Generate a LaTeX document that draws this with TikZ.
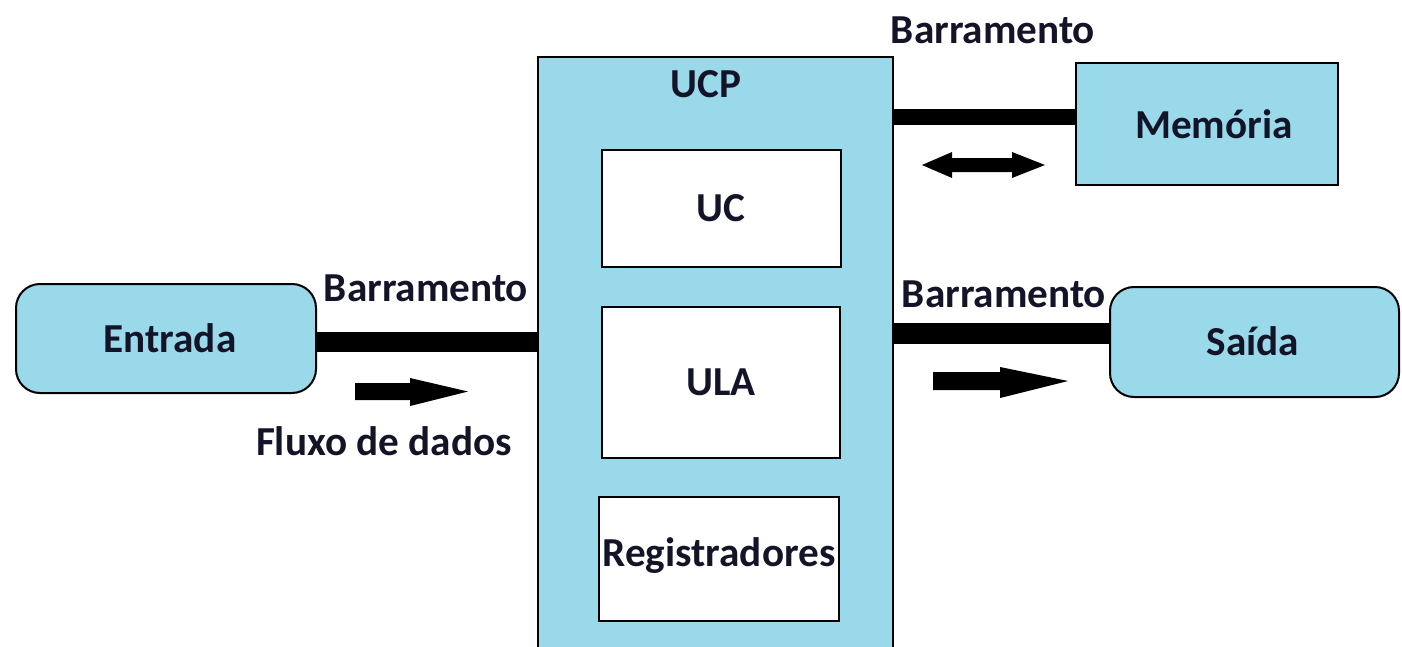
\documentclass[tikz,border=0pt]{standalone}
\usepackage{fontspec}
\setmainfont{Carlito}
\definecolor{boxblue}{RGB}{153,217,234}
\definecolor{txt}{RGB}{20,20,40}
\begin{document}
\begin{tikzpicture}[x=0.5pt,y=-0.5pt,
  lbl/.style={font=\fontsize{20.6}{24}\selectfont\bfseries, text=txt, inner sep=0pt},
  bluebox/.style={draw=black, line width=1pt, fill=boxblue},
  whitebox/.style={draw=black, line width=1pt, fill=white},
  bus/.style={fill=black},
  flow/.style={fill=black}]
\useasboundingbox (0,0) rectangle (1402,647);
% UCP
\fill[boxblue] (538,57) rectangle (893,660);
\draw[line width=1pt] (538,660) -- (538,57) -- (893,57) -- (893,660);
\node[lbl] (ucp) at (706,84) {UCP};
% inner boxes
\draw[whitebox] (602,150) rectangle (841,267);
\node[lbl] (uc) at (721,208) {UC};
\draw[whitebox] (602,307) rectangle (840,458);
\node[lbl] (ula) at (721,382) {ULA};
\draw[whitebox] (599,497) rectangle (839,621);
\node[lbl] (reg) at (719,556) {Registradores};
% Memoria
\draw[bluebox] (1076,63) rectangle (1338,185);
\node[lbl] (mem) at (1214,124) {Memória};
% Entrada
\draw[bluebox, rounded corners=12pt] (16,284) rectangle (316,393);
\node[lbl] (ent) at (170,338) {Entrada};
% Saida
\draw[bluebox, rounded corners=12pt] (1110,287) rectangle (1399,397);
\node[lbl] (sai) at (1253,341) {Saída};
% buses
\fill[bus] (317,332) rectangle (538,352);
\fill[bus] (894,109) rectangle (1076,125);
\fill[bus] (894,323) rectangle (1109,344);
% labels
\node[lbl] (b1) at (426,288) {Barramento};
\node[lbl] (b2) at (993,30) {Barramento};
\node[lbl] (b3) at (1004,294) {Barramento};
\node[lbl] (fx) at (384,441) {Fluxo de dados};
% flow arrows
\fill[flow] (355,383) -- (410,383) -- (410,378) -- (468,391.5) -- (410,406) -- (410,400) -- (355,400) -- cycle;
\fill[flow] (933,372) -- (1000,372) -- (1000,367) -- (1068,381) -- (1000,398) -- (1000,390) -- (933,390) -- cycle;
\fill[flow] (922,165) -- (952,152) -- (952,158) -- (1012,158) -- (1012,152) -- (1045,165) -- (1012,178) -- (1012,172) -- (952,172) -- (952,178) -- cycle;
\end{tikzpicture}
\end{document}
